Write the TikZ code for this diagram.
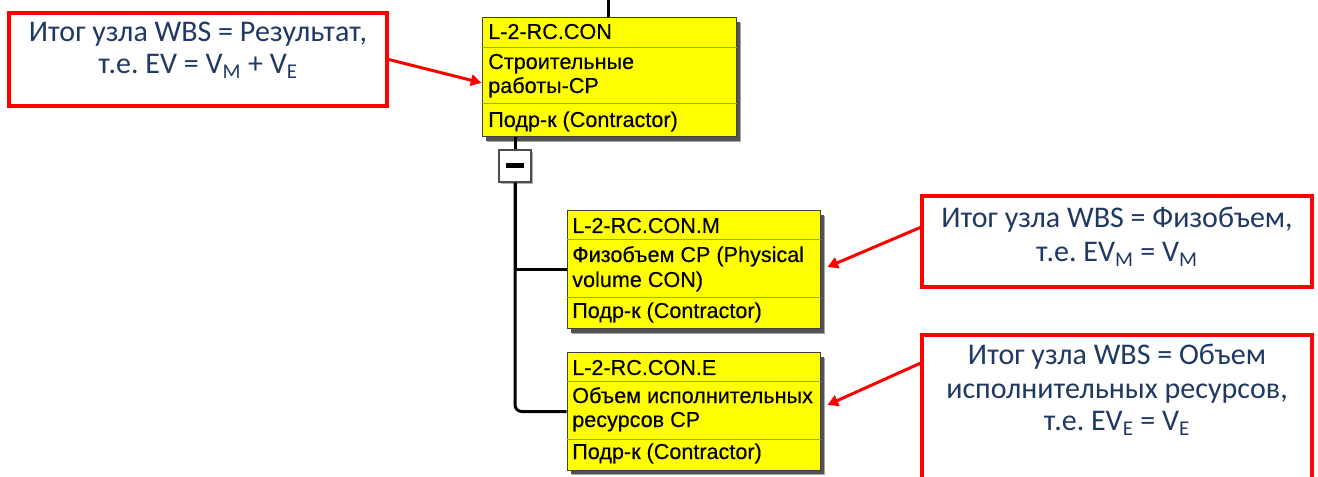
\documentclass[tikz,border=0pt]{standalone}
\usepackage{fontspec}
\setmainfont{Liberation Sans}
\newfontfamily\wbsfont[FakeBold=0.35]{Liberation Sans}
\newfontfamily\calloutfont{Carlito}
\frenchspacing
\usetikzlibrary{arrows.meta,fit,shadows}
\definecolor{wbsyellow}{RGB}{255,255,0}
\definecolor{noteblue}{RGB}{31,56,100}
\definecolor{notered}{RGB}{255,0,0}
\begin{document}
\begin{tikzpicture}[x=0.75pt,y=-0.75pt,
  wbsbox/.style={draw=black!75, line width=0.75pt, fill=wbsyellow, inner sep=0pt,
    drop shadow={shadow xshift=3.9pt, shadow yshift=-3.9pt, fill=black!35, opacity=1},
    drop shadow={shadow xshift=2.7pt, shadow yshift=-2.7pt, fill=black!68, opacity=1}},
  divider/.style={draw=black!40, line width=0.75pt},
  wbstext/.style={anchor=base west, inner sep=0pt, font=\wbsfont\fontsize{16.2}{18}\selectfont},
  tree/.style={draw=black, line width=2.25pt},
  minusbox/.style={draw=black!70, line width=1.1pt, fill=white, inner sep=0pt,
    drop shadow={shadow xshift=1.2pt, shadow yshift=-1.2pt, fill=black!30, opacity=1}},
  note/.style={draw=notered, line width=2.6pt, fill=white, inner sep=0pt},
  notetext/.style={anchor=base, inner sep=0pt, text=noteblue,
    font=\calloutfont\fontsize{22.5}{26}\selectfont},
  notearrow/.style={draw=notered, line width=2.25pt,
    -{Triangle[length=8pt,width=8.5pt]}}
]
% canvas
\fill[white] (0,0) rectangle (1318,477);
\useasboundingbox (0,0) rectangle (1318,477);
\clip (0,0) rectangle (1318,477);

% WBS boxes
\node[wbsbox, fit={(482,18) (736,137)}] (top) {};
\draw[divider] (top.west |- 0,47.5) -- (top.east |- 0,47.5);
\draw[divider] (top.west |- 0,104) -- (top.east |- 0,104);
\node[wbstext] (topid) at (488,39) {L-2-RC.CON};
\node[wbstext] (topname1) at (488,69) {Строительные};
\node[wbstext] (topname2) at (488,93) {работы-СР};
\node[wbstext] (toporg) at (488,127) {Подр-к (Contractor)};

\node[wbsbox, fit={(567,211) (820,329)}] (M) {};
\draw[divider] (M.west |- 0,240) -- (M.east |- 0,240);
\draw[divider] (M.west |- 0,298) -- (M.east |- 0,298);
\node[wbstext] (Mid) at (572,233) {L-2-RC.CON.M};
\node[wbstext] (Mname1) at (572,262) {Физобъем СР (Physical};
\node[wbstext] (Mname2) at (572,287) {volume CON)};
\node[wbstext] (Morg) at (572,318) {Подр-к (Contractor)};

\node[wbsbox, fit={(567,353) (820,470)}] (E) {};
\draw[divider] (E.west |- 0,382) -- (E.east |- 0,382);
\draw[divider] (E.west |- 0,439) -- (E.east |- 0,439);
\node[wbstext] (Eid) at (572,375) {L-2-RC.CON.E};
\node[wbstext] (Ename1) at (572,403) {Объем исполнительных};
\node[wbstext] (Ename2) at (572,427) {ресурсов СР};
\node[wbstext] (Eorg) at (572,459) {Подр-к (Contractor)};

% tree connectors
\coordinate (feed) at (608,0);
\draw[tree] (feed) -- (feed |- top.north);
\node[minusbox, fit={(499,150) (531,182)}] (minus) {};
\draw[tree] (top.south -| minus.north) -- (minus.north);
\draw[line width=3.75pt] ([xshift=-6.75pt]minus.center) -- ([xshift=6.75pt]minus.center);
\draw[tree] (minus.south) |- (M.west);
\draw[tree, rounded corners=5pt] (minus.south) |- (E.west);

% callouts
\node[note, fit={(9,13) (387,106)}] (c1) {};
\node[notetext] (c1a) at (198,42) {Итог узла WBS = Результат,};
\node[notetext] (c1b) at (198,74) {т.е. EV = V\textsubscript{M} + V\textsubscript{E}};

\node[note, fit={(922,196) (1312,287)}] (c2) {};
\node[notetext] (c2a) at (1117,228) {Итог узла WBS = Физобъем,};
\node[notetext] (c2b) at (1117,262) {т.е. EV\textsubscript{M} = V\textsubscript{M}};

\node[note, fit={(922,335) (1312,510)}] (c3) {};
\node[notetext] (c3a) at (1117,365) {Итог узла WBS = Объем};
\node[notetext] (c3b) at (1117,398) {исполнительных ресурсов,};
\node[notetext] (c3c) at (1117,431) {т.е. EV\textsubscript{E} = V\textsubscript{E}};

% pointers from callouts to boxes
\draw[notearrow] (c1.east) -- ([yshift=-4pt]top.west);
\draw[notearrow] ([yshift=10.5pt]c2.west) -- ([xshift=5.25pt,yshift=2.25pt]M.east);
\draw[notearrow] ([yshift=-22.5pt]c3.north west) -- ([xshift=5.25pt,yshift=4.9pt]E.east);
\end{tikzpicture}
\end{document}
